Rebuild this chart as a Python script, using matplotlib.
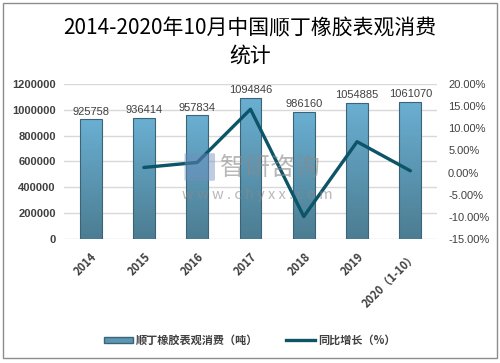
import matplotlib
matplotlib.use('Agg')
import matplotlib.pyplot as plt
import numpy as np
from matplotlib.patches import Rectangle, FancyBboxPatch
from matplotlib.colors import LinearSegmentedColormap
from matplotlib.lines import Line2D

plt.rcParams['font.family'] = ['Noto Sans CJK SC', 'DejaVu Sans']

# data
years = ['2014', '2015', '2016', '2017', '2018', '2019', '2020（1-10）']
consumption = [925758, 936414, 957834, 1094846, 986160, 1054885, 1061070]
growth_years = ['2015', '2016', '2017', '2018', '2019', '2020（1-10）']
growth = [1.15, 2.29, 14.30, -9.93, 6.97, 0.40]

fig = plt.figure(figsize=(5, 3.63), dpi=100)
ax = fig.add_axes([0.128, 0.3416, 0.746, 0.427])
ax2 = ax.twinx()

x = np.arange(len(years))
bars = ax.bar(x, consumption, width=0.41, color='none', edgecolor='#3b6577',
              linewidth=0.8, zorder=3)

# vertical gradient inside each bar
cmap = LinearSegmentedColormap.from_list('g', ['#4c7d92', '#6aafd2'])
grad = np.linspace(0, 1, 100).reshape(-1, 1)
for b in bars:
    im = ax.imshow(grad, cmap=cmap, origin='lower', aspect='auto',
                   extent=[b.get_x(), b.get_x() + b.get_width(), 0, b.get_height()],
                   zorder=2)
    im.set_clip_path(b)

for xi, v in zip(x, consumption):
    ax.annotate(str(v), (xi, v), xytext=(0, 2), textcoords='offset points',
                ha='center', va='bottom', fontsize=8, color='#404040',
                family='Liberation Sans')

ax.set_xlim(-0.5, len(years) - 0.5)
ax.set_ylim(0, 1200000)
ax.set_yticks(np.arange(0, 1200001, 200000))
ax.set_yticklabels([str(v) for v in range(0, 1200001, 200000)],
                   fontsize=8, fontweight='bold', family='Liberation Sans', color='#404040')
ax.grid(axis='y', color='#d9d9d9', linewidth=1, zorder=0)
ax.set_axisbelow(True)
ax.set_xticks(x)
ax.set_xticklabels(years, rotation=45, ha='right', va='top', rotation_mode='anchor',
                   fontsize=8, fontweight='bold', color='#404040')
ax.tick_params(length=0, pad=6)
ax.tick_params(axis='x', pad=8)

gx = [years.index(g) for g in growth_years]
ax2.plot(gx, growth, color='#0c5468', linewidth=2.4, solid_capstyle='round', zorder=4)
ax2.set_ylim(-15, 20)
ax2.set_yticks(np.arange(-15, 21, 5))
ax2.set_yticklabels(['%.2f%%' % v for v in range(-15, 21, 5)],
                    fontsize=8, family='Liberation Sans', color='#404040')
ax2.tick_params(length=0, pad=8)

for a in (ax, ax2):
    for s in a.spines.values():
        s.set_visible(False)

# watermark
fig.add_artist(FancyBboxPatch((0.372, 0.505), 0.055, 0.07, transform=fig.transFigure,
                              boxstyle='round,pad=0.003', facecolor='#6f8fc0',
                              edgecolor='none', alpha=0.45, zorder=10))
fig.text(0.44, 0.538, '智研咨询', fontsize=18, color='#8a8a8a', alpha=0.6,
         ha='left', va='center', zorder=10)
fig.text(0.365, 0.462, 'w w w . c h y x x . c o m', fontsize=10.5, color='#8a8a8a',
         alpha=0.6, ha='left', va='center', zorder=10)

fig.text(0.5, 0.922, '2014-2020年10月中国顺丁橡胶表观消费', fontsize=15, ha='center',
         va='center', color='black')
fig.text(0.5, 0.847, '统计', fontsize=15, ha='center', va='center', color='black')

handles = [Rectangle((0, 0), 1, 1, facecolor='#5b96b3', edgecolor='#3b6577'),
           Line2D([0], [0], color='#0c5468', linewidth=2.4)]
fig.legend(handles, ['顺丁橡胶表观消费（吨）', '同比增长（%）'], loc='center',
           bbox_to_anchor=(0.5, 0.063), ncol=2, frameon=False,
           prop={'size': 8, 'weight': 'bold'}, handlelength=2.6, handleheight=0.5,
           columnspacing=2.5, handletextpad=0.3, labelcolor='#404040')

fig.add_artist(Rectangle((0.006, 0.014), 0.988, 0.978, transform=fig.transFigure,
                         fill=False, edgecolor='#8c8c8c', linewidth=1))

fig.savefig('out.png', dpi=100)
